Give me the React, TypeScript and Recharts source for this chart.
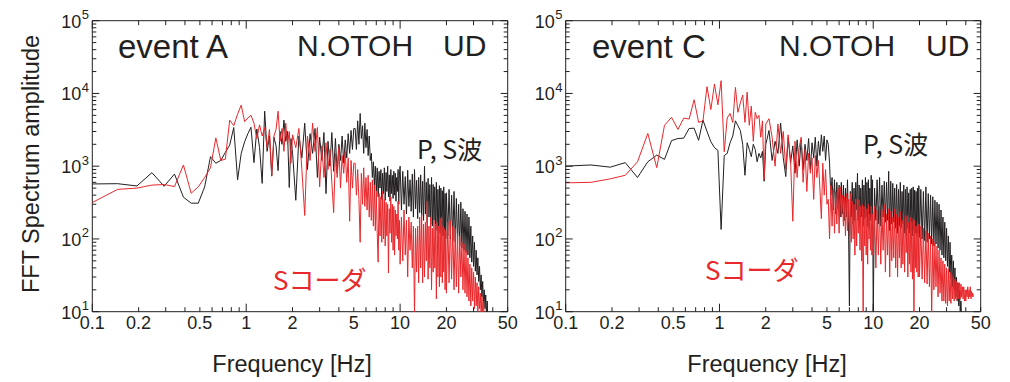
import React from "react";
import { LineChart, Line, XAxis, YAxis, ReferenceArea } from "recharts";

// FFT frequency grid (Hz), shared by both panels
const FREQ = [
  0.098, 0.146, 0.195, 0.244, 0.293, 0.342, 0.391, 0.439, 0.488, 0.537, 0.586, 0.635, 0.684, 0.732, 0.781, 0.83, 0.879, 0.928, 0.977, 1.025,
  1.074, 1.123, 1.172, 1.221, 1.27, 1.318, 1.367, 1.416, 1.465, 1.514, 1.563, 1.611, 1.66, 1.709, 1.758, 1.807, 1.855, 1.904, 1.953, 2.002,
  2.1, 2.2, 2.3, 2.4, 2.5, 2.6, 2.7, 2.8, 2.9, 3.0, 3.1, 3.2, 3.3, 3.4, 3.5, 3.6, 3.7, 3.8, 3.9, 4.0, 4.1, 4.2, 4.3, 4.4, 4.5, 4.6, 4.7, 4.8, 4.9, 5.0,
  5.1, 5.2, 5.3, 5.4, 5.5, 5.6, 5.7, 5.8, 5.9, 6.0,
  6.1, 6.2, 6.3, 6.4, 6.5, 6.6, 6.7, 6.8, 6.9, 7.0,
  7.1, 7.2, 7.3, 7.4, 7.5, 7.6, 7.7, 7.8, 7.9, 8.0,
  8.1, 8.2, 8.3, 8.4, 8.5, 8.6, 8.7, 8.8, 8.9, 9.0,
  9.1, 9.2, 9.3, 9.4, 9.5, 9.6, 9.7, 9.8, 9.9, 10.0,
  10.2, 10.4, 10.6, 10.8, 11.0, 11.2, 11.4, 11.6, 11.8, 12.0,
  12.2, 12.4, 12.6, 12.8, 13.0, 13.2, 13.4, 13.6, 13.8, 14.0,
  14.2, 14.4, 14.6, 14.8, 15.0, 15.2, 15.4, 15.6, 15.8, 16.0,
  16.2, 16.4, 16.6, 16.8, 17.0, 17.2, 17.4, 17.6, 17.8, 18.0,
  18.2, 18.4, 18.6, 18.8, 19.0, 19.2, 19.4, 19.6, 19.8, 20.0,
  20.4, 20.8, 21.2, 21.6, 22.0, 22.4, 22.8, 23.2, 23.6, 24.0,
  24.4, 24.8, 25.2, 25.6, 26.0, 26.4, 26.8, 27.2, 27.6, 28.0,
  28.4, 28.8, 29.2, 29.6, 30.0, 30.4, 30.8, 31.2, 31.6, 32.0,
  32.4, 32.8, 33.2, 33.6, 34.0, 34.4, 34.8, 35.2, 35.6, 36.0,
  36.4, 36.8, 37.2, 37.6, 38.0, 38.4, 38.8, 39.2, 39.6, 40.0,
  40.4, 40.8, 41.2, 41.6, 42.0, 42.4, 42.8, 43.2, 43.6, 44.0, 44.4, 44.8,
];

// event A, P,S wave (black)
const A_PS = [
  570, 575, 535, 815, 530, 780, 375, 310, 310, 520, 1350, 1100, 1200, 1550, 1950, 3400, 650, 1500, 2170, 2800,
  3430, 1120, 3250, 1800, 580, 5700, 1600, 2600, 730, 2500, 1900, 870, 3000, 2000, 4300, 2200, 3000, 510, 2400, 1500,
  340, 2600, 1300, 3900, 900, 2800, 1500, 3300, 700, 2500, 1200, 2900, 420, 2200, 1000, 2900, 850, 2400, 800, 2000, 1200, 2600, 1100, 2300, 1300, 2800, 1500, 3100, 1700, 3300,
  3300, 1700, 4200, 2000, 5300, 2400, 3600, 1500, 3900, 1800,
  3200, 1400, 2600, 1200, 1500, 700, 1150, 550, 1000, 450,
  950, 380, 850, 500, 900, 350, 800, 420, 950, 340,
  820, 450, 1000, 380, 760, 330, 900, 420, 750, 360,
  850, 400, 800, 330, 700, 450, 900, 300, 780, 1000,
  250, 850, 300, 720, 220, 880, 280, 650, 240, 780,
  200, 900, 260, 640, 190, 700, 230, 760, 210, 620,
  180, 1000, 220, 600, 170, 680, 200, 560, 160, 700,
  150, 560, 180, 520, 140, 600, 130, 480, 150, 540,
  120, 500, 140, 460, 110, 520, 130, 420, 100, 430,
  110, 480, 100, 400, 95, 450, 90, 360, 85, 300,
  80, 320, 75, 260, 70, 240, 65, 220, 60, 200,
  55, 150, 48, 110, 42, 90, 36, 70, 32, 55,
  26, 42, 20, 32, 16, 26, 13, 20, 11, 17,
  9, 14, 7, null, null, null, null, null, null, null,
  null, null, null, null, null, null, null, null, null, null, null, null,
];

// event A, S coda (red)
const A_CODA = [
  310, 480, 500, 550, 560, 525, 1040, 425, 520, 700, 950, 2450, 1200, 1250, 4300, 3600, 5200, 6900, 4100, 4600,
  5000, 3900, 2400, 3700, 2600, 3400, 1800, 3200, 750, 2600, 3200, 5700, 2200, 3300, 1600, 3900, 2000, 3000, 1100, 2700,
  1800, 3300, 900, 210, 2600, 1200, 3900, 1600, 3400, 520, 1900, 700, 2100, 900, 1700, 600, 230, 1500, 700, 1800, 500, 1400, 800, 1600, 600, 1300, 175, 1200, 500, 1100,
  1100, 400, 900, 350, 90, 800, 300, 950, 280, 700,
  250, 750, 200, 600, 180, 650, 150, 550, 130, 450,
  120, 48, 420, 110, 380, 90, 450, 100, 350, 80,
  320, 110, 300, 34, 260, 120, 380, 90, 300, 70,
  280, 60, 250, 110, 220, 100, 330, 70, 180, 45,
  200, 50, 250, 60, 180, 30, 200, 70, 170, 40,
  150, 9, 140, 35, 150, 25, 200, 40, 220, 25,
  160, 30, 170, 50, 330, 28, 150, 40, 200, 20,
  140, 35, 180, 40, 160, 15, 170, 30, 150, 22,
  190, 30, 200, 25, 150, 35, 140, 20, 130, 18,
  170, 25, 180, 28, 150, 20, 140, 22, 120, 18,
  110, 30, 90, 20, 85, 18, 70, 16, 55, 14,
  45, 12, 40, 14, 35, 11, 30, 12, 25, 10,
  22, 11, 18, 9, 16, 10, 14, 7, null, null,
  null, null, null, null, null, null, null, null, null, null,
  null, null, null, null, null, null, null, null, null, null, null, null,
];

// event C, P,S wave (black)
const C_PS = [
  1000, 1040, 970, 1120, 700, 1150, 1420, 1240, 2250, 2400, 2430, 3300, 3330, 2270, 4300, 3000, 2170, 1800, 1650, 135,
  1400, 1500, 2100, 2600, 4200, 3600, 3100, 2000, 750, 2100, 1700, 1350, 2000, 1700, 1150, 1500, 1300, 1600, 620, 2000,
  3100, 1200, 2200, 1500, 3900, 1300, 720, 2500, 1100, 1900, 800, 2300, 1000, 2300, 900, 2000, 1200, 2400, 900, 2100, 1300, 2500, 1000, 2200, 1400, 2700, 1600, 2600, 1200, 2300,
  2000, 1100, 400, 700, 250, 650, 220, 600, 260, 550,
  200, 600, 220, 550, 180, 500, 200, 650, 180, 12,
  450, 200, 600, 160, 500, 180, 600, 250, 800, 180,
  550, 170, 500, 200, 650, 150, 550, 190, 700, 200,
  600, 150, 650, 140, 500, 180, 750, 200, 650, 8,
  500, 180, 650, 160, 700, 150, 550, 200, 620, 170,
  600, 180, 850, 130, 620, 160, 580, 170, 500, 140,
  560, 120, 480, 150, 600, 140, 450, 160, 550, 120,
  480, 110, 520, 140, 430, 120, 480, 130, 500, 110,
  520, 130, 470, 120, 450, 110, 500, 120, 540, 105,
  480, 100, 450, 95, 520, 90, 420, 100, 400, 85,
  380, 80, 340, 85, 320, 75, 300, 70, 250, 60,
  200, 55, 170, 50, 140, 42, 110, 35, 90, 28,
  60, 22, 50, 20, 40, 16, 30, 14, 25, 12,
  20, 10, 14, 8, 5, null, null, null, null, null,
  null, null, null, null, null, null, null, null, null, null, null, null,
];

// event C, S coda (red)
const C_CODA = [
  590, 600, 670, 750, 1150, 2820, 955, 3650, 4700, 3200, 4580, 4450, 8200, 4000, 4200, 12400, 6000, 13500, 7000, 15000,
  1580, 4600, 5300, 4000, 12100, 5500, 7400, 9500, 4000, 10400, 3650, 6700, 2200, 5500, 4500, 5000, 2500, 4200, 650, 3800,
  4500, 2500, 1000, 3800, 1500, 3000, 900, 2700, 1200, 175, 2200, 700, 1800, 2500, 600, 1700, 450, 1500, 800, 1300, 350, 1400, 700, 1200, 500, 190, 1100, 400, 900, 300,
  350, 100, 550, 150, 480, 120, 450, 160, 500, 120,
  520, 200, 400, 150, 380, 110, 420, 130, 350, 110,
  420, 90, 330, 100, 300, 60, 350, 80, 300, 120,
  350, 70, 280, 50, 300, 8, 280, 80, 320, 60,
  260, 45, 300, 100, 220, 70, 280, 60, 220, 60,
  280, 40, 250, 60, 280, 45, 250, 70, 300, 35,
  220, 60, 260, 30, 240, 50, 200, 55, 260, 40,
  220, 30, 200, 55, 240, 40, 180, 45, 210, 35,
  180, 65, 210, 30, 170, 45, 200, 35, 170, 28,
  190, 9, 180, 40, 150, 35, 170, 30, 160, 30,
  150, 28, 140, 25, 130, 24, 120, 22, 110, 9,
  100, 20, 90, 22, 80, 16, 70, 18, 55, 14,
  50, 14, 45, 13, 40, 12, 38, 14, 35, 13,
  32, 15, 30, 14, 28, 15, 26, 14, 25, 15,
  25, 15, 24, 16, 22, 15, 22, 14, 20, 14,
  20, 16, 22, 15, 20, 16, 22, 15, 19, 16, 18, 16,
];

const X_TICKS = [0.1, 0.2, 0.3, 0.4, 0.5, 0.6, 0.7, 0.8, 0.9, 1, 2, 3, 4, 5, 6, 7, 8, 9, 10, 20, 30, 40, 50];
const X_LABELS = [0.1, 0.2, 0.5, 1, 2, 5, 10, 20, 50];
const Y_TICKS = [
  10, 20, 30, 40, 50, 60, 70, 80, 90,
  100, 200, 300, 400, 500, 600, 700, 800, 900,
  1000, 2000, 3000, 4000, 5000, 6000, 7000, 8000, 9000,
  10000, 20000, 30000, 40000, 50000, 60000, 70000, 80000, 90000,
  100000,
];

const INK = "#231f20";
const RED = "#e8282c";
const FONT = "'Liberation Sans', Arial, Helvetica, sans-serif";
const JP = "'Noto Sans CJK JP', 'Liberation Sans', sans-serif";

const TOP = 20.7;
const BOTTOM = 311.7;
const H = 382;

const isDecade = (v: number) => Math.abs(Math.log10(v) - Math.round(Math.log10(v))) < 1e-9;

function makeXTick(top: number, bottom: number) {
  return (props: any) => {
    const { x, payload } = props;
    const v = payload.value;
    const len = isDecade(v) ? 8 : 4.5;
    return (
      <g>
        <line x1={x} x2={x} y1={bottom} y2={bottom - len} stroke={INK} strokeWidth={1} />
        <line x1={x} x2={x} y1={top} y2={top + len} stroke={INK} strokeWidth={1} />
        {X_LABELS.includes(v) && (
          <text x={x} y={bottom + 17.5} textAnchor="middle" fontSize={18} fill={INK} fontFamily={FONT}>
            {String(v)}
          </text>
        )}
      </g>
    );
  };
}

function makeYTick(left: number, right: number) {
  return (props: any) => {
    const { y, payload } = props;
    const v = payload.value;
    const major = isDecade(v);
    const len = major ? 7 : 4;
    return (
      <g>
        <line x1={left} x2={left + len} y1={y} y2={y} stroke={INK} strokeWidth={1} />
        <line x1={right} x2={right - len} y1={y} y2={y} stroke={INK} strokeWidth={1} />
        {major && (
          <text x={left - 31} y={y + 7} fontSize={18} fill={INK} fontFamily={FONT}>
            <tspan>10</tspan>
            <tspan dx={0.5} dy={-8.5} fontSize={13}>{Math.round(Math.log10(v))}</tspan>
          </text>
        )}
      </g>
    );
  };
}

type PanelProps = {
  left: number;
  width: number;
  plotLeft: number;
  plotRight: number;
  ps: (number | null)[];
  coda: (number | null)[];
};

function Panel({ left, width, plotLeft, plotRight, ps, coda }: PanelProps) {
  const data = FREQ.map((f, i) => ({ f, ps: ps[i], coda: coda[i] }));
  return (
    <div style={{ position: "absolute", left, top: 0 }}>
      <LineChart
        width={width}
        height={H}
        data={data}
        margin={{ top: TOP, right: width - plotRight, bottom: H - BOTTOM - 30, left: plotLeft - 60 }}
      >
        <XAxis
          dataKey="f"
          type="number"
          scale="log"
          domain={[0.1, 50]}
          allowDataOverflow
          ticks={X_TICKS}
          interval={0}
          height={30}
          axisLine={false}
          tickLine={false}
          tick={makeXTick(TOP, BOTTOM)}
        />
        <YAxis
          type="number"
          scale="log"
          domain={[10, 100000]}
          allowDataOverflow
          ticks={Y_TICKS}
          interval={0}
          width={60}
          axisLine={false}
          tickLine={false}
          tick={makeYTick(plotLeft, plotRight)}
        />
        <ReferenceArea x1={0.1} x2={50} y1={10} y2={100000} fill="none" stroke={INK} strokeWidth={1} />
        <Line type="linear" dataKey="ps" stroke={INK} strokeWidth={1} dot={false} activeDot={false} isAnimationActive={false} />
        <Line type="linear" dataKey="coda" stroke={RED} strokeWidth={1} dot={false} activeDot={false} isAnimationActive={false} />
      </LineChart>
    </div>
  );
}

export default function App() {
  return (
    <div style={{ position: "absolute", left: 0, top: 0, width: 1010, height: H, background: "#fff", fontFamily: FONT }}>
      <Panel left={0} width={520} plotLeft={92.3} plotRight={507.7} ps={A_PS} coda={A_CODA} />
      <Panel left={505} width={505} plotLeft={60.7} plotRight={475.7} ps={C_PS} coda={C_CODA} />
      <svg width={1010} height={H} style={{ position: "absolute", left: 0, top: 0, pointerEvents: "none" }}>
        <text transform="translate(38.5,164) rotate(-90)" textAnchor="middle" fontSize={23.5} fill={INK} fontFamily={FONT}>
          FFT Spectrum amplitude
        </text>

        <text x={118} y={58} fontSize={33} fill={INK} fontFamily={FONT}>event A</text>
        <text x={297} y={56} fontSize={30} fill={INK} fontFamily={FONT}>N.OTOH</text>
        <text x={443} y={56} fontSize={30} fill={INK} fontFamily={FONT}>UD</text>
        <text x={417} y={158.5} fontSize={25} fill={INK} fontFamily={JP}>P, S波</text>
        <text x={273} y={290} fontSize={26} fill={RED} fontFamily={JP}>Sコーダ</text>
        <text x={292} y={372} textAnchor="middle" fontSize={23.5} fill={INK} fontFamily={FONT}>Frequency [Hz]</text>

        <text x={592} y={58} fontSize={33} fill={INK} fontFamily={FONT}>event C</text>
        <text x={779} y={56} fontSize={30} fill={INK} fontFamily={FONT}>N.OTOH</text>
        <text x={926} y={56} fontSize={30} fill={INK} fontFamily={FONT}>UD</text>
        <text x={863} y={154} fontSize={25} fill={INK} fontFamily={JP}>P, S波</text>
        <text x={705} y={280} fontSize={26} fill={RED} fontFamily={JP}>Sコーダ</text>
        <text x={767} y={372} textAnchor="middle" fontSize={23.5} fill={INK} fontFamily={FONT}>Frequency [Hz]</text>
      </svg>
    </div>
  );
}
